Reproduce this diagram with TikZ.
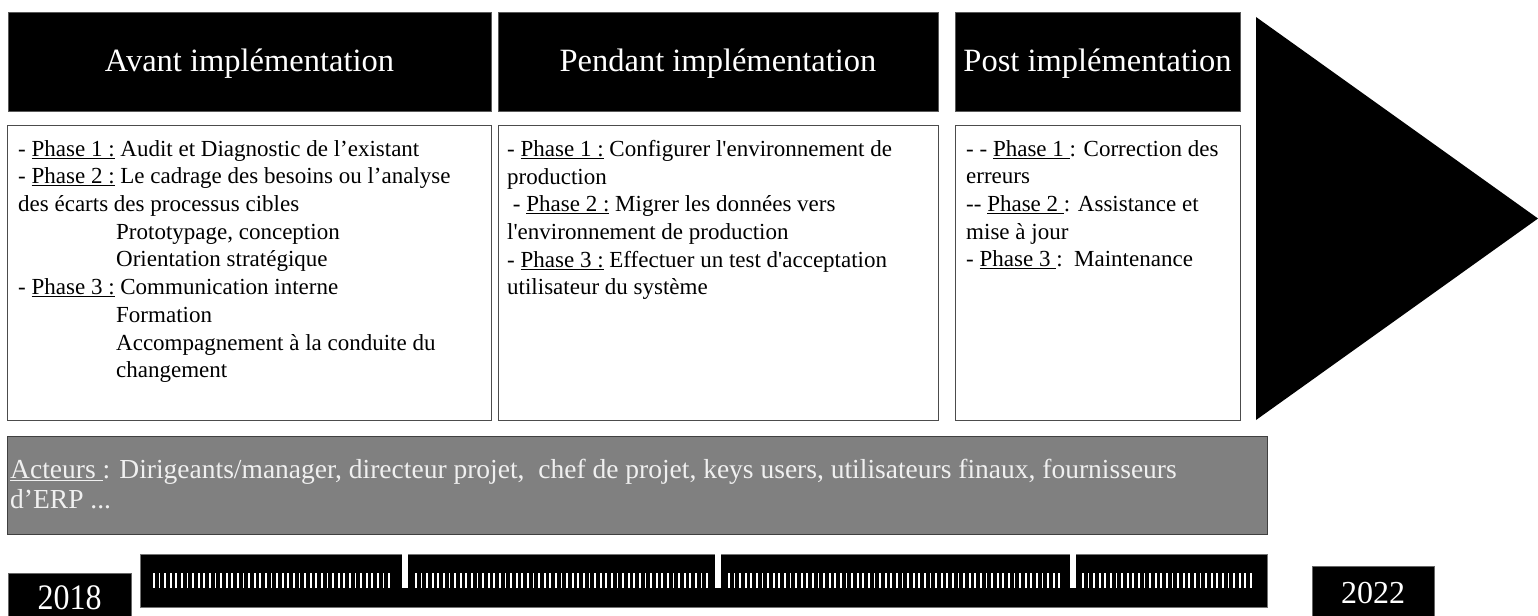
\documentclass[tikz,border=0pt]{standalone}
\usepackage{fontspec}
\setmainfont{Liberation Serif}
\begin{document}
\begin{tikzpicture}[x=1bp,y=-1bp,
  hdrbox/.style={fill=black,draw=black!65,line width=0.8bp,inner sep=0,minimum height=99bp},
  hdrtext/.style={text=white,anchor=base,inner sep=0,font=\fontsize{32.5bp}{39bp}\selectfont},
  bodybox/.style={fill=white,draw=black!70,line width=1bp,inner sep=0,minimum height=294bp},
  bodytext/.style={anchor=north west,align=left,inner sep=0,font=\fontsize{23bp}{27.7bp}\selectfont},
  actbox/.style={fill=black!50,draw=black!75,line width=1bp,inner sep=0},
  acttext/.style={anchor=north west,align=left,inner sep=0,text=black!6,font=\fontsize{27.5bp}{30bp}\selectfont},
  yearbox/.style={fill=black,draw=black!60,line width=0.6bp,inner sep=0},
  yeartext/.style={text=white,anchor=base,inner sep=0,font=\fontsize{32bp}{38bp}\selectfont},
  tick/.style={fill=white}
]
\useasboundingbox (0,0) rectangle (1538,616);

% header boxes
\node[hdrbox,minimum width=483bp] (h1) at (249.5,61.5) {};
\node[hdrbox,minimum width=440bp] (h2) at (718,61.5) {};
\node[hdrbox,minimum width=285bp] (h3) at (1097.5,61.5) {};
\node[hdrtext] (t1) at (249.5,72) {Avant implémentation};
\node[hdrtext] (t2) at (718,72) {Pendant implémentation};
\node[hdrtext] (t3) at (1097.5,72) {Post implémentation};

% arrow head
\fill[black] (1256,17) -- (1538,218.5) -- (1256,420) -- cycle;

% body boxes
\node[bodybox,minimum width=483bp] (b1) at (249.5,273) {};
\node[bodybox,minimum width=440bp] (b2) at (718,273) {};
\node[bodybox,minimum width=285bp] (b3) at (1097.5,273) {};

\node[bodytext] (p1) at (18,140) {%
- \underline{Phase 1 :} Audit et Diagnostic de l’existant\\
- \underline{Phase 2 :} Le cadrage des besoins ou l’analyse\\
des écarts des processus cibles\\
\hspace*{98bp}Prototypage, conception\\
\hspace*{98bp}Orientation stratégique\\
- \underline{Phase 3 :} Communication interne\\
\hspace*{98bp}Formation\\
\hspace*{98bp}Accompagnement à la conduite du\\
\hspace*{98bp}changement};

\node[bodytext] (p2) at (507,140) {%
- \underline{Phase 1 :} Configurer l\textquotesingle environnement de\\
production\\
\hspace*{0.25em}- \underline{Phase 2 :} Migrer les données vers\\
l\textquotesingle environnement de production\\
- \underline{Phase 3 :} Effectuer un test d\textquotesingle acceptation\\
utilisateur du système};

\node[bodytext] (p3) at (966,140) {%
- - \underline{Phase 1\ }: Correction des\\
erreurs\\
-{}- \underline{Phase 2\ }: Assistance et\\
mise à jour\\
- \underline{Phase 3\ }:\ \ Maintenance};

% actors
\node[actbox,minimum width=1259bp,minimum height=98bp] (ab) at (637.5,485) {};
\node[acttext] (at) at (10,459) {%
\underline{Acteurs\ }: Dirigeants/manager, directeur projet,\ \ chef de projet, keys users, utilisateurs finaux, fournisseurs\\
d’ERP ...};

% timeline bar
\node[fill=black,draw=black!55,line width=0.8bp,inner sep=0,minimum width=1127bp,minimum height=53bp] (bar) at (703.5,580.5) {};
\foreach \s/\e in {153/393,415/707,728/1060,1082/1253}{
  \pgfmathtruncatemacro\nt{(\e-\s)/5.6}
  \foreach \k in {0,...,\nt}{
    \fill[tick] ({\s+\k*5.6},573) rectangle ++(1.8,15);
  }
}
\foreach \x in {402,715,1070}{
  \fill[white] (\x,553.5) rectangle ++(5.5,34.5);
}

% years
\node[yearbox,minimum width=123bp,minimum height=46bp] (y1) at (69.5,596) {};
\node[yeartext] (y1t) at (69.5,609) {\scalebox{1}[1.12]{2018}};
\node[yearbox,minimum width=122bp,minimum height=52bp] (y2) at (1373,592) {};
\node[yeartext] (y2t) at (1373,603) {2022};
\end{tikzpicture}
\end{document}
